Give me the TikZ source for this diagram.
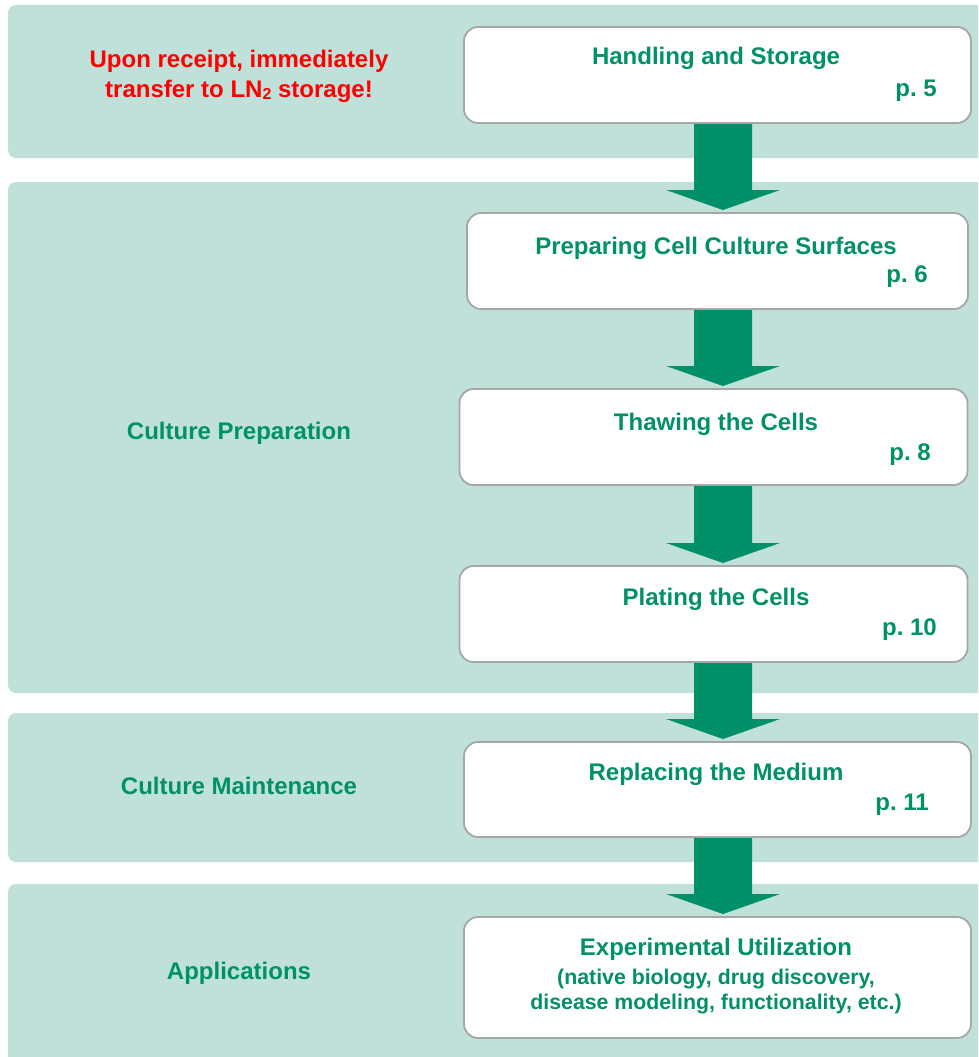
\documentclass[tikz,border=0pt]{standalone}
\usepackage{fontspec}
\setmainfont{Liberation Sans}
\usetikzlibrary{calc}
\frenchspacing
\definecolor{bandc}{RGB}{191,225,218}
\definecolor{grn}{RGB}{0,145,105}
\definecolor{bord}{RGB}{166,166,166}
\definecolor{redc}{RGB}{255,0,0}
\newcommand\flowarrow[2]{%
  \fill[arrowfill] let \p1=(#1.south), \p2=(#2.north) in
    (694pt,\y1-1pt) -- (752pt,\y1-1pt) -- (752pt,\y2+23pt) -- (780pt,\y2+23pt)
    -- (723pt,\y2+3pt) -- (666pt,\y2+23pt) -- (694pt,\y2+23pt) -- cycle;}
\begin{document}
\begin{tikzpicture}[x=1pt,y=-1pt,
  bandbox/.style={fill=bandc, rounded corners=8pt, anchor=north west, inner sep=0pt, outer sep=0pt},
  stepbox/.style={draw=bord, line width=1.8pt, fill=white, rounded corners=14pt, anchor=north west, inner sep=0pt, outer sep=0pt},
  title/.style={anchor=base, font=\fontsize{24}{28}\selectfont\bfseries\frenchspacing, text=grn, inner sep=0pt},
  small/.style={anchor=base, font=\fontsize{21.3}{25}\selectfont\bfseries\frenchspacing, text=grn, inner sep=0pt},
  pagelbl/.style={anchor=base east, font=\fontsize{24}{28}\selectfont\bfseries\frenchspacing, text=grn, inner sep=0pt},
  side/.style={anchor=base, font=\fontsize{24}{28}\selectfont\bfseries, text=grn, inner sep=0pt},
  warn/.style={anchor=base, font=\fontsize{24}{28}\selectfont\bfseries, text=redc, inner sep=0pt},
  arrowfill/.style={fill=grn}]
\useasboundingbox (0,0) rectangle (978,1057);
\fill[white] (0,0) rectangle (978,1057);
\clip (0,0) rectangle (978,1057);
% bands
\node[bandbox, minimum width=990pt, minimum height=153pt] (b1) at (8,5) {};
\node[bandbox, minimum width=990pt, minimum height=511pt] (b2) at (8,182) {};
\node[bandbox, minimum width=990pt, minimum height=149pt] (b3) at (8,713) {};
\node[bandbox, minimum width=990pt, minimum height=190pt] (b4) at (8,884) {};
% step boxes
\node[stepbox, minimum width=507pt, minimum height=96pt] (s1) at (464,27) {};
\node[stepbox, minimum width=501pt, minimum height=96pt] (s2) at (467,213) {};
\node[stepbox, minimum width=508pt, minimum height=96pt] (s3) at (459.5,389) {};
\node[stepbox, minimum width=508pt, minimum height=96pt] (s4) at (459.5,566) {};
\node[stepbox, minimum width=507pt, minimum height=95pt] (s5) at (464,742) {};
\node[stepbox, minimum width=507pt, minimum height=121pt] (s6) at (464,917) {};
% arrows
\flowarrow{s1}{s2}
\flowarrow{s2}{s3}
\flowarrow{s3}{s4}
\flowarrow{s4}{s5}
\flowarrow{s5}{s6}
% titles
\node[title] (t1) at (716,64) {Handling and Storage};
\node[pagelbl] (p1) at (937,96) {p. 5};
\node[title] (t2) at (716,254) {Preparing Cell Culture Surfaces};
\node[pagelbl] (p2) at (928,282) {p. 6};
\node[title] (t3) at (716,430) {Thawing the Cells};
\node[pagelbl] (p3) at (931,460) {p. 8};
\node[title] (t4) at (716,605) {Plating the Cells};
\node[pagelbl] (p4) at (937,635) {p. 10};
\node[title] (t5) at (716,780) {Replacing the Medium};
\node[pagelbl] (p5) at (929,810) {p. 11};
\node[title] (t6) at (716,955) {Experimental Utilization};
\node[small] (t6b) at (716,984) {(native biology, drug discovery,};
\node[small] (t6c) at (716,1009) {disease modeling, functionality, etc.)};
% side labels
\node[warn] (w1) at (239,67) {Upon receipt, immediately};
\node[warn] (w2) at (239,97) {transfer to LN{\fontsize{16}{16}\selectfont\raisebox{-2pt}{2}} storage!};
\node[side] (l2) at (239,439) {Culture Preparation};
\node[side] (l3) at (239,794) {Culture Maintenance};
\node[side] (l4) at (239,979) {Applications};
\end{tikzpicture}
\end{document}
